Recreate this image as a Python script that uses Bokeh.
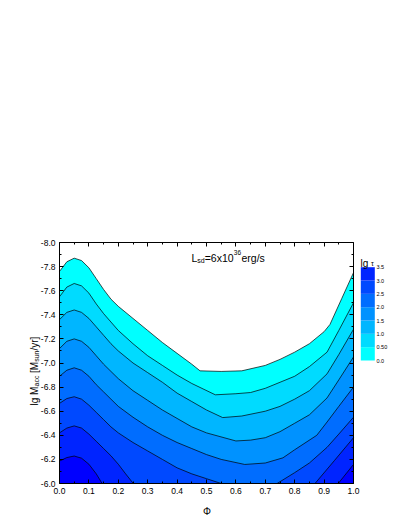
import math
from bokeh.plotting import figure
from bokeh.models import Range1d, LinearAxis, FixedTicker, Label
from bokeh.core.properties import value
from bokeh.embed import file_html
from bokeh.resources import INLINE

# ---------------- data ----------------
levels = [0.0, 0.5, 1.0, 1.5, 2.0, 2.5, 3.0, 3.5]
band_colors = ["#00FFFF", "#00DBFF", "#00B6FF", "#0092FF",
               "#006DFF", "#0049FF", "#0024FF", "#0000FF"]
nan = float("nan")

# contour lines  lg tau = level  (Phi, lg Mdot)
phi_lv00 = [0, .025, .05, .075, .1, .125, .15, .175, .2, .25, .3, .35, .4, .45, .478,
            .55, .62, .7, .75, .8, .85, .9, .92, .96, 1.0]
mdot_lv00 = [-7.76, -7.84, -7.87, -7.85, -7.79, -7.70, -7.61, -7.53, -7.47, -7.37, -7.27,
             -7.17, -7.08, -6.99, -6.935, -6.93, -6.935, -6.98, -7.03, -7.09, -7.16,
             -7.26, -7.32, -7.535, -7.75]
phi_lv05 = [0, .025, .05, .075, .1, .125, .15, .175, .2, .25, .3, .35, .4, .45, .53,
            .6, .65, .7, .75, .8, .85, .91, .95, 1.0]
mdot_lv05 = [-7.55, -7.63, -7.66, -7.64, -7.58, -7.49, -7.41, -7.34, -7.27, -7.16, -7.06,
             -6.98, -6.90, -6.83, -6.736, -6.745, -6.755, -6.79, -6.84, -6.89, -6.97,
             -7.09, -7.27, -7.50]
phi_lv10 = [0, .025, .05, .075, .1, .125, .15, .175, .2, .25, .3, .35, .4, .45, .5,
            .555, .62, .7, .75, .8, .85, .91, .95, 1.0]
mdot_lv10 = [-7.36, -7.42, -7.44, -7.42, -7.37, -7.30, -7.23, -7.16, -7.10, -7.00, -6.92,
             -6.84, -6.75, -6.68, -6.61, -6.547, -6.56, -6.60, -6.64, -6.70, -6.77,
             -6.91, -7.07, -7.28]
phi_lv15 = [0, .025, .05, .075, .1, .125, .15, .175, .2, .25, .3, .35, .4, .45, .5,
            .6, .65, .7, .75, .8, .85, .91, .95, 1.0]
mdot_lv15 = [-7.12, -7.18, -7.20, -7.18, -7.13, -7.06, -6.99, -6.93, -6.87, -6.77, -6.69,
             -6.61, -6.54, -6.47, -6.42, -6.353, -6.36, -6.38, -6.43, -6.50, -6.57,
             -6.71, -6.86, -7.05]
phi_lv20 = [0, .025, .05, .075, .1, .125, .15, .175, .2, .25, .3, .35, .4, .45, .5,
            .55, .63, .7, .76, .8, .875, .91, .95, 1.0]
mdot_lv20 = [-6.89, -6.94, -6.96, -6.94, -6.89, -6.82, -6.76, -6.70, -6.64, -6.55, -6.47,
             -6.40, -6.34, -6.29, -6.24, -6.20, -6.158, -6.17, -6.213, -6.28, -6.40,
             -6.51, -6.64, -6.80]
phi_lv25 = [0, .025, .05, .075, .1, .125, .15, .175, .2, .25, .3, .35, .4, .45, .5,
            .55, nan, .74, .8, .85, .91, .95, 1.0]
mdot_lv25 = [-6.665, -6.705, -6.72, -6.70, -6.65, -6.59, -6.53, -6.47, -6.42, -6.34, -6.27,
             -6.20, -6.13, -6.08, -6.04, -6.0, nan, -6.0, -6.09, -6.17, -6.30, -6.41, -6.55]
phi_lv30 = [0, .025, .05, .075, .1, .125, .15, .175, .2, .225, .251, nan, .869, .935, 1.0]
mdot_lv30 = [-6.42, -6.46, -6.478, -6.46, -6.41, -6.35, -6.29, -6.23, -6.16, -6.08, -6.0,
             nan, -6.0, -6.19, -6.38]
phi_lv35 = [0, .025, .05, .075, .1, .125, .145, nan, .948, 1.0]
mdot_lv35 = [-6.186, -6.215, -6.228, -6.21, -6.16, -6.08, -6.0, nan, -6.0, -6.158]

x_tick_vals = [0.0, 0.1, 0.2, 0.3, 0.4, 0.5, 0.6, 0.7, 0.8, 0.9, 1.0]
x_tick_labels = ["0.0", "0.1", "0.2", "0.3", "0.4", "0.5", "0.6", "0.7", "0.8", "0.9", "1.0"]
y_tick_vals = [-8.0, -7.8, -7.6, -7.4, -7.2, -7.0, -6.8, -6.6, -6.4, -6.2, -6.0]
y_tick_labels = ["-8.0", "-7.8", "-7.6", "-7.4", "-7.2", "-7.0", "-6.8", "-6.6", "-6.4", "-6.2", "-6.0"]
cb_tick_labels = ["0.0", "0.50", "1.0", "1.5", "2.0", "2.5", "3.0", "3.5"]

contours = [(phi_lv00, mdot_lv00), (phi_lv05, mdot_lv05), (phi_lv10, mdot_lv10),
            (phi_lv15, mdot_lv15), (phi_lv20, mdot_lv20), (phi_lv25, mdot_lv25),
            (phi_lv30, mdot_lv30), (phi_lv35, mdot_lv35)]

# ---------------- layout (page pixels) ----------------
W, H = 399, 518
AX0, AX1 = 59.0, 353.0       # page x of Phi = 0 and Phi = 1
AY0, AY1 = 242.0, 483.0      # page y of lg Mdot = -8 and -6
PHI0, PHI1 = 0.0, 1.0
Y_TOP, Y_BOTTOM = -8.0, -6.0
FONT = "Liberation Sans"


def dx(page_x):
    return PHI0 + (page_x - AX0) / (AX1 - AX0) * (PHI1 - PHI0)


def dy(page_y):
    return Y_TOP + (page_y - AY0) / (AY1 - AY0) * (Y_BOTTOM - Y_TOP)


CB_TOP, CB_BOT = 266.7, 360.0          # page y of lg tau = 3.5 and 0.0
px_per_level = (CB_BOT - CB_TOP) / (levels[-1] - levels[0])


def lv(page_y):
    return levels[0] + (CB_BOT - page_y) / px_per_level


# the frame fills the whole canvas; the four axes are pinned to the data box
p = figure(width=W, height=H, output_backend="svg", toolbar_location=None,
           x_range=Range1d(dx(0), dx(W)), y_range=Range1d(dy(H), dy(0)),
           min_border_left=0, min_border_right=0, min_border_top=0, min_border_bottom=0,
           x_axis_location=None, y_axis_location=None)
p.title.visible = False
p.extra_y_ranges = {"cb": Range1d(lv(H), lv(0))}
p.grid.visible = False
p.outline_line_color = None
p.background_fill_color = "white"
p.border_fill_color = "white"

# filled bands
for k, (px, py) in enumerate(contours):
    xs = [a for a in px if a == a] + [PHI1, PHI0]
    ys = [b for b in py if b == b] + [Y_BOTTOM, Y_BOTTOM]
    p.patch(xs, ys, fill_color=band_colors[k], line_color=None)
for px, py in contours:
    p.line(px, py, line_color="black", line_width=0.7)

x_minor = [v + 0.05 for v in x_tick_vals[:-1]]
y_minor = [v + 0.1 for v in y_tick_vals[:-1]]


def make_axis(vals, labels, minor, show, **kw):
    ax = LinearAxis(ticker=FixedTicker(ticks=vals, minor_ticks=minor), **kw)
    ax.major_label_overrides = {v: (l if show else "") for v, l in zip(vals, labels)}
    ax.major_tick_in = 4
    ax.major_tick_out = 0
    ax.minor_tick_in = 2
    ax.minor_tick_out = 0
    ax.axis_line_color = "black"
    ax.major_tick_line_color = "black"
    ax.minor_tick_line_color = "black"
    ax.major_label_text_font = FONT
    ax.major_label_text_font_size = "8.5px" if show else "0px"
    ax.major_label_text_color = "black"
    ax.major_label_standoff = 4 if show else 0
    return ax


p.add_layout(make_axis(x_tick_vals, x_tick_labels, x_minor, True,
                       fixed_location=Y_BOTTOM, bounds=(PHI0, PHI1)), "below")
p.add_layout(make_axis(x_tick_vals, x_tick_labels, x_minor, False,
                       fixed_location=Y_TOP, bounds=(PHI0, PHI1)), "above")
p.add_layout(make_axis(y_tick_vals, y_tick_labels, y_minor, True,
                       fixed_location=PHI0, bounds=(Y_TOP, Y_BOTTOM)), "left")
p.add_layout(make_axis(y_tick_vals, y_tick_labels, y_minor, False,
                       fixed_location=PHI1, bounds=(Y_TOP, Y_BOTTOM)), "right")


def lab(text, px_, py_, size, angle=0.0, align="left"):
    p.add_layout(Label(x=dx(px_), y=dy(py_), text=text, text_font=FONT,
                       text_font_size=size, text_color="black", angle=angle,
                       text_align=align, text_baseline="alphabetic"))


# title inside the plot
lab("L", 191, 257, "10.5px")
lab("sd", 196.8, 259.5, "7px")
lab("=6x10", 204.2, 257, "10.5px")
lab("36", 233.3, 252, "6.5px")
lab("erg/s", 241, 257, "10.5px")

# x-axis title
lab("\u03a6", 206.5, 511, "10px", align="center")

# rotated y-axis title
R = math.pi / 2
lab("lg M", 33.5, 405, "10px", R)
lab("acc", 35.5, 386, "7px", R)
lab("[M", 33.5, 372.5, "10px", R)
lab("sun", 35.5, 361.3, "7px", R)
lab("/yr]", 33.5, 350, "10px", R)

# colour bar (vertical scale in lg tau units)
p.quad(left=dx(360.3), right=dx(374.3), bottom=levels[:-1], top=levels[1:],
       fill_color=band_colors[:7], line_color=None, y_range_name="cb")
p.text(x=[dx(376)] * len(levels), y=levels, text=cb_tick_labels, text_font=value(FONT),
       text_font_size=value("5.5px"), text_color="black",
       text_align="left", text_baseline="middle", y_range_name="cb")
lab("lg", 360, 262.5, "10px")
lab("\u03c4", 370.5, 263, "7px")

open("out.html", "w").write(file_html(p, INLINE))
